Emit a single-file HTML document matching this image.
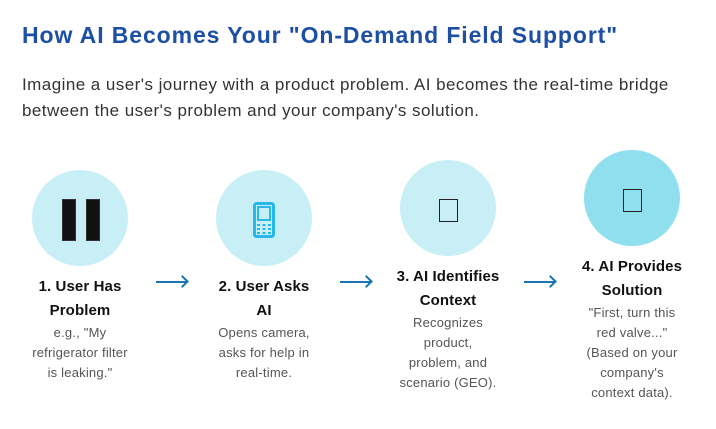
<!DOCTYPE html>
<html><head><meta charset="utf-8"><style>
body{margin:0;width:716px;height:429px;background:#fff;font-family:"Liberation Sans",sans-serif;position:relative;overflow:hidden}
h1{position:absolute;left:22px;top:22px;margin:0;font-size:23px;letter-spacing:0.9px;color:#1d4fa3;font-weight:bold;white-space:nowrap}
p.lead{position:absolute;left:22px;top:72px;margin:0;font-size:17px;letter-spacing:0.45px;line-height:26px;color:#333;width:665px}
.c{position:absolute;width:96px;height:96px;border-radius:50%;background:#c9eff6}
.col{position:absolute;width:140px;text-align:center}
.t{font-size:15px;font-weight:bold;line-height:24px;color:#111;letter-spacing:0.1px}
.d{font-size:13px;line-height:20px;color:#555;letter-spacing:0.2px}
.arr{position:absolute;height:2px;background:#1a74b2;width:30px}
.arr:after{content:"";position:absolute;right:-1px;top:-4px;width:7px;height:7px;border-top:2px solid #1a74b2;border-right:2px solid #1a74b2;transform:rotate(45deg)}
.ng{position:absolute;width:12px;height:40px;background:#111;border:1px solid #333}
.tofu{position:absolute;width:17px;height:21px;border:1px solid #222}
</style></head><body>
<h1>How AI Becomes Your "On-Demand Field Support"</h1>
<p class="lead">Imagine a user's journey with a product problem. AI becomes the real-time bridge between the user's problem and your company's solution.</p>

<div class="c" style="left:32px;top:170px"></div>
<div class="ng" style="left:62px;top:199px"></div>
<div class="ng" style="left:86px;top:199px"></div>

<div class="c" style="left:216px;top:170px"></div>
<svg style="position:absolute;left:253px;top:202px" width="22" height="36" viewBox="0 0 22 36"><rect x="1.5" y="1.5" width="19" height="33" rx="2" fill="none" stroke="#29b6e8" stroke-width="3"/><rect x="5" y="5" width="12" height="13" fill="none" stroke="#29b6e8" stroke-width="2"/><g fill="#29b6e8"><rect x="4" y="22" width="3" height="2"/><rect x="9.5" y="22" width="3" height="2"/><rect x="15" y="22" width="3" height="2"/><rect x="4" y="26" width="3" height="2"/><rect x="9.5" y="26" width="3" height="2"/><rect x="15" y="26" width="3" height="2"/><rect x="4" y="30" width="3" height="2"/><rect x="9.5" y="30" width="3" height="2"/><rect x="15" y="30" width="3" height="2"/></g></svg>

<div class="c" style="left:400px;top:160px"></div>
<div class="tofu" style="left:439px;top:199px"></div>

<div class="c" style="left:584px;top:150px;background:#8fdfee"></div>
<div class="tofu" style="left:623px;top:189px"></div>

<div class="arr" style="left:156px;top:281px"></div>
<div class="arr" style="left:340px;top:281px"></div>
<div class="arr" style="left:524px;top:281px"></div>

<div class="col" style="left:10px;top:275px"><div class="t">1. User Has<br>Problem</div><div class="d">e.g., "My<br>refrigerator filter<br>is leaking."</div></div>
<div class="col" style="left:194px;top:275px"><div class="t">2. User Asks<br>AI</div><div class="d">Opens camera,<br>asks for help in<br>real-time.</div></div>
<div class="col" style="left:378px;top:265px"><div class="t">3. AI Identifies<br>Context</div><div class="d">Recognizes<br>product,<br>problem, and<br>scenario (GEO).</div></div>
<div class="col" style="left:562px;top:255px"><div class="t">4. AI Provides<br>Solution</div><div class="d">"First, turn this<br>red valve..."<br>(Based on your<br>company's<br>context data).</div></div>
</body></html>
